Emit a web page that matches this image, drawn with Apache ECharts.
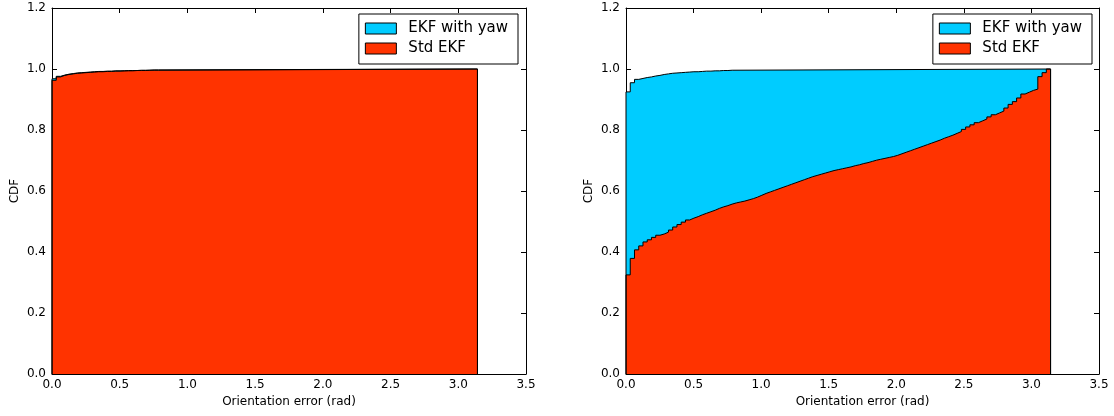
<!DOCTYPE html>
<html>
<head>
<meta charset="utf-8">
<script src="https://cdn.jsdelivr.net/npm/echarts@6/dist/echarts.min.js"></script>
<style>
  html, body { margin: 0; padding: 0; background: #fff; }
  #chart { width: 1114px; height: 416px; }
</style>
</head>
<body>
<div id="chart"></div>
<script>
// cumulative histogram, 100 bins over [0, pi]
const BIN_COUNT = 100
const X_END = Math.PI
const seriesNames = ['EKF with yaw', 'Std EKF']
const xTicks = ['0.0', '0.5', '1.0', '1.5', '2.0', '2.5', '3.0', '3.5']
const yTicks = ['0.0', '0.2', '0.4', '0.6', '0.8', '1.0', '1.2']

// left panel: per-bin CDF, last value held until pi
const leftYaw = [0.968, 0.976, 0.980, 0.983, 0.985, 0.987, 0.988, 0.989, 0.990, 0.991,
  0.992, 0.992, 0.993, 0.993, 0.994, 0.994, 0.994, 0.995, 0.995, 0.995,
  0.996, 0.996, 0.996, 0.997, 0.997, 1.000]
const leftStd = [0.963, 0.974, 0.979, 0.982, 0.984, 0.986, 0.987, 0.988, 0.989, 0.990,
  0.991, 0.991, 0.992, 0.992, 0.993, 0.993, 0.994, 0.994, 0.994, 0.995,
  0.995, 0.995, 0.996, 0.996, 0.996, 1.000]

// right panel
const rightYaw = [0.925, 0.955, 0.966, 0.969, 0.972, 0.974, 0.977, 0.979, 0.982, 0.984,
  0.986, 0.987, 0.988, 0.989, 0.990, 0.991, 0.991, 0.992, 0.993, 0.993,
  0.994, 0.994, 0.995, 0.995, 0.996, 1.000]
const rightStd = [0.325, 0.379, 0.407, 0.420, 0.433, 0.440, 0.448, 0.455, 0.459, 0.465,
  0.472, 0.482, 0.490, 0.498, 0.505, 0.511, 0.516, 0.522, 0.527, 0.532,
  0.537, 0.543, 0.548, 0.552, 0.557, 0.561, 0.564, 0.567, 0.571, 0.575,
  0.580, 0.586, 0.592, 0.597, 0.602, 0.607, 0.612, 0.617, 0.622, 0.627,
  0.632, 0.637, 0.642, 0.647, 0.651, 0.655, 0.659, 0.663, 0.667, 0.670,
  0.673, 0.676, 0.679, 0.683, 0.686, 0.690, 0.693, 0.697, 0.701, 0.704,
  0.707, 0.710, 0.713, 0.717, 0.722, 0.727, 0.732, 0.737, 0.742, 0.747,
  0.752, 0.757, 0.762, 0.767, 0.773, 0.778, 0.783, 0.789, 0.795, 0.802,
  0.810, 0.817, 0.824, 0.830, 0.836, 0.843, 0.850, 0.856, 0.862, 0.872,
  0.884, 0.893, 0.905, 0.918, 0.924, 0.930, 0.934, 0.975, 0.988, 1.000]

const colors = ['#00ccff', '#ff3300']
const FONT = 'DejaVu Sans'

// step outline: up from 0 at x=0, one point per bin, back down at pi
function stepData(vals) {
  const w = X_END / BIN_COUNT
  const pts = [[0, 0]]
  vals.forEach((v, i) => pts.push([i * w, v]))
  pts.push([X_END, vals[vals.length - 1]])
  pts.push([X_END, 0])
  return pts
}

function makeSeries(name, vals, idx, color) {
  return {
    name: name,
    type: 'line',
    step: 'end',
    xAxisIndex: idx * 2,
    yAxisIndex: idx * 2,
    showSymbol: false,
    animation: false,
    data: stepData(vals),
    itemStyle: { color: color },
    lineStyle: { color: '#000', width: 1 },
    areaStyle: { color: color, opacity: 1 },
    z: 2
  }
}

const grids = [
  { left: 52, top: 8, right: 588, bottom: 42 },
  { left: 626, top: 8, right: 15, bottom: 42 }
]

const axisLine = { show: true, onZero: false, lineStyle: { color: '#000', width: 1 } }
const axisTick = { show: true, inside: true, length: 5, lineStyle: { color: '#000' } }

const xAxes = []
const yAxes = []
grids.forEach((g, i) => {
  xAxes.push({
    type: 'value', gridIndex: i, min: 0, max: 3.5, interval: 0.5,
    name: 'Orientation error (rad)', nameLocation: 'middle', nameGap: 22,
    nameTextStyle: { fontFamily: FONT, fontSize: 12, color: '#000' },
    axisLine: axisLine,
    axisTick: axisTick,
    axisLabel: { fontFamily: FONT, fontSize: 12, color: '#000', margin: 5,
      formatter: v => xTicks[Math.round(v / 0.5)] },
    splitLine: { show: false }
  })
  xAxes.push({
    type: 'value', gridIndex: i, position: 'top', min: 0, max: 3.5, interval: 0.5,
    axisLine: axisLine,
    axisTick: axisTick,
    axisLabel: { show: false },
    splitLine: { show: false }
  })
  yAxes.push({
    type: 'value', gridIndex: i, min: 0, max: 1.2, interval: 0.2,
    name: 'CDF', nameLocation: 'middle', nameGap: 31,
    nameTextStyle: { fontFamily: FONT, fontSize: 12, color: '#000' },
    axisLine: axisLine,
    axisTick: axisTick,
    axisLabel: { fontFamily: FONT, fontSize: 12, color: '#000', margin: 6,
      formatter: v => yTicks[Math.round(v / 0.2)] },
    splitLine: { show: false }
  })
  yAxes.push({
    type: 'value', gridIndex: i, position: 'right', min: 0, max: 1.2, interval: 0.2,
    axisLine: axisLine,
    axisTick: axisTick,
    axisLabel: { show: false },
    splitLine: { show: false }
  })
})

function makeLegend(right) {
  return {
    orient: 'vertical', right: right, top: 14,
    backgroundColor: '#fff', borderColor: '#000', borderWidth: 1, borderRadius: 0,
    padding: [7, 10, 8, 6], itemGap: 5, itemWidth: 31, itemHeight: 11,
    selectedMode: false,
    textStyle: { fontFamily: FONT, fontSize: 15, color: '#000', padding: [0, 0, 0, 7] },
    data: seriesNames.map((n, i) => ({
      name: n, icon: 'rect',
      itemStyle: { color: colors[i], borderColor: '#000', borderWidth: 1 }
    }))
  }
}

const chart = echarts.init(document.getElementById('chart'))
chart.setOption({
  animation: false,
  backgroundColor: '#fff',
  legend: [makeLegend(596), makeLegend(22)],
  grid: grids,
  xAxis: xAxes,
  yAxis: yAxes,
  series: [
    makeSeries(seriesNames[0], leftYaw, 0, colors[0]),
    makeSeries(seriesNames[1], leftStd, 0, colors[1]),
    makeSeries(seriesNames[0], rightYaw, 1, colors[0]),
    makeSeries(seriesNames[1], rightStd, 1, colors[1])
  ]
})
</script>
</body>
</html>
